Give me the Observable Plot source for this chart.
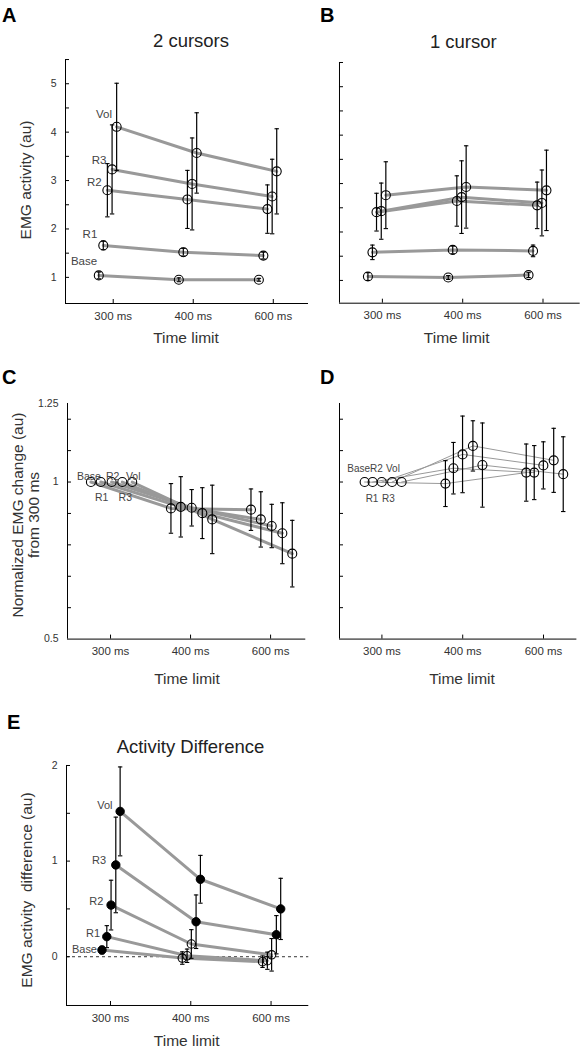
<!DOCTYPE html>
<html><head><meta charset="utf-8">
<script src="https://cdn.jsdelivr.net/npm/d3@7"></script>
<script src="https://cdn.jsdelivr.net/npm/@observablehq/plot@0.6"></script>
<style>
body{margin:0;background:#fff;}
#fig{position:relative;width:581px;height:1053px;overflow:hidden;background:#fff;font-family:"Liberation Sans",Arial,sans-serif;}
#fig > svg{position:absolute;}
</style></head><body><div id="fig"></div>
<script>
// ---------- data ----------
const seriesNames = ["Base", "R1", "R2", "R3", "Vol"];
const timeLabels = ["300 ms", "400 ms", "600 ms"];
const timeIndex = [1, 2, 3];

// A: 2 cursors, EMG activity (au) [300, 400, 600 ms]
const twoCursorMean = [
  [1.04, 0.95, 0.95],
  [1.66, 1.52, 1.45],
  [2.80, 2.61, 2.41],
  [3.23, 2.93, 2.67],
  [4.11, 3.57, 3.19]];
const twoCursorErr = [
  [0.07, 0.04, 0.03],
  [0.09, 0.08, 0.07],
  [0.55, 0.60, 0.50],
  [0.92, 0.95, 0.77],
  [0.90, 0.83, 0.88]];
// B: 1 cursor
const oneCursorMean = [
  [1.08, 1.06, 1.11],
  [1.58, 1.63, 1.61],
  [2.41, 2.64, 2.55],
  [2.43, 2.72, 2.60],
  [2.76, 2.93, 2.86]];
const oneCursorErr = [
  [0.08, 0.04, 0.05],
  [0.15, 0.08, 0.12],
  [0.39, 0.52, 0.48],
  [0.58, 0.75, 0.68],
  [0.69, 0.85, 0.83]];
// C: normalized change from 300 ms, 2 cursors
const twoCursorNorm = [
  [1, 0.916, 0.912],
  [1, 0.921, 0.881],
  [1, 0.918, 0.860],
  [1, 0.901, 0.837],
  [1, 0.881, 0.772]];
const twoCursorNormErr = [
  [0, 0.079, 0.066],
  [0, 0.096, 0.088],
  [0, 0.058, 0.069],
  [0, 0.081, 0.097],
  [0, 0.109, 0.106]];
// D: normalized change from 300 ms, 1 cursor
const oneCursorNorm = [
  [1, 0.995, 1.030],
  [1, 1.044, 1.030],
  [1, 1.088, 1.053],
  [1, 1.115, 1.069],
  [1, 1.054, 1.025]];
const oneCursorNormErr = [
  [0, 0.073, 0.091],
  [0, 0.082, 0.086],
  [0, 0.122, 0.075],
  [0, 0.080, 0.102],
  [0, 0.134, 0.119]];
// E: activity difference
const diffMean = [
  [0.07, -0.014, -0.052],
  [0.21, 0.01, -0.042],
  [0.54, 0.133, 0.02],
  [0.96, 0.366, 0.23],
  [1.52, 0.81, 0.50]];
const diffErr = [
  [0.04, 0.065, 0.06],
  [0.115, 0.07, 0.09],
  [0.26, 0.15, 0.17],
  [0.50, 0.28, 0.20],
  [0.465, 0.25, 0.32]];
const diffSignificant = [
  [true, false, false],
  [true, false, false],
  [true, false, false],
  [true, true, true],
  [true, true, true]];

// tick values
const ticksAB = [1, 1.5, 2, 2.5, 3, 3.5, 4, 4.5, 5, 5.5];
const labelsAB = [1, 2, 3, 4, 5];
const ticksCD = [0.6, 0.7, 0.8, 0.9, 1.0, 1.1, 1.2];
const labelsCD = [0.5, 1, 1.25];
const ticksE = [0, 0.5, 1, 1.5, 2];
const labelsE = [0, 1, 2];

// ---------- styling / layout ----------
const FONT = "Liberation Sans, Arial, sans-serif";
const capSymbol = {draw(ctx) { ctx.moveTo(-2.2, 0); ctx.lineTo(2.2, 0); }};

function panel(cfg) {
  const [L, T, R, B] = cfg.frame;
  const mL = 50, mT = 12, mR = 6, mB = 30;
  const W = R - L, H = B - T;
  const pts = [];
  cfg.means.forEach((arr, s) => arr.forEach((v, t) => pts.push({
    series: seriesNames[s], s, t,
    x: timeIndex[t] + cfg.offsets[s], y: v, e: cfg.errs[s][t],
    filled: cfg.filled ? cfg.filled[s][t] : false
  })));
  const bars = pts.filter(d => d.e > 0);
  const marks = [];
  if (cfg.zeroLine) marks.push(Plot.ruleY([0], {stroke: "#000", strokeWidth: 0.8, strokeDasharray: "3,3"}));
  marks.push(
    Plot.line(pts, {x: "x", y: "y", z: "series", stroke: "#999", strokeWidth: cfg.lineWidth}),
    Plot.dot(pts.filter(d => !d.filled), {x: "x", y: "y", r: cfg.r, stroke: "#000", fill: "none", strokeWidth: 1.1}),
    Plot.dot(pts.filter(d => d.filled), {x: "x", y: "y", r: cfg.r, stroke: "#000", fill: "#000", strokeWidth: 1}),
    Plot.ruleX(bars, {x: "x", y1: d => d.y - d.e, y2: d => d.y + d.e, stroke: "#000", strokeWidth: 1.2}),
    Plot.dot(bars, {x: "x", y: d => d.y - d.e, symbol: capSymbol, r: 2, stroke: "#000", fill: "none", strokeWidth: 1.1}),
    Plot.dot(bars, {x: "x", y: d => d.y + d.e, symbol: capSymbol, r: 2, stroke: "#000", fill: "none", strokeWidth: 1.1}),
    Plot.ruleX([cfg.xDomain[0]], {stroke: "#000", strokeWidth: 1}),
    Plot.ruleY([cfg.yDomain[0]], {stroke: "#000", strokeWidth: 1}),
    Plot.tickY(cfg.yTicks, {y: d => d, insetRight: W - 4, stroke: "#000", strokeWidth: 1}),
    Plot.tickX(timeIndex, {x: d => d, insetTop: H - 4, stroke: "#000", strokeWidth: 1}),
    Plot.axisX(timeIndex, {tickFormat: d => timeLabels[d - 1], tickSize: 0, tickPadding: 8, fontSize: 11.5, color: "#333", label: null})
  );
  if (cfg.yLabels) marks.push(Plot.axisY(cfg.yLabels, {tickFormat: d => String(d), tickSize: 0, tickPadding: 9, fontSize: 10.5, color: "#333", label: null}));
  (cfg.labels || []).forEach(l => {
    const p = pts.find(d => d.s === l.s && d.t === 0);
    marks.push(Plot.text([p], {x: "x", y: "y", text: d => d.series, dx: l.dx, dy: l.dy,
      textAnchor: cfg.labelAnchor, fontSize: cfg.labelSize, fill: "#444"}));
  });
  const svg = Plot.plot({
    width: W + mL + mR, height: H + mT + mB,
    marginLeft: mL, marginRight: mR, marginTop: mT, marginBottom: mB,
    x: {type: "linear", domain: cfg.xDomain},
    y: {type: "linear", domain: cfg.yDomain, axis: cfg.yLabels ? undefined : null},
    style: {fontFamily: FONT, background: "transparent", overflow: "visible"},
    marks
  });
  svg.style.left = (L - mL) + "px";
  svg.style.top = (T - mT) + "px";
  svg.style.maxWidth = "none";
  document.getElementById("fig").appendChild(svg);
}

const offAB = [-0.18, -0.124, -0.073, -0.014, 0.043];
const offC = [-0.245, -0.122, 0.014, 0.147, 0.271];
const offD = [-0.214, -0.115, -0.002, 0.126, 0.244];
const offE = [-0.106, -0.046, 0.007, 0.066, 0.12];

panel({frame: [65, 60, 308, 303], xDomain: [0.404, 3.44], yDomain: [0.46, 5.48],
  means: twoCursorMean, errs: twoCursorErr, offsets: offAB, lineWidth: 3, r: 4.5,
  yTicks: ticksAB, yLabels: labelsAB, labelAnchor: "end", labelSize: 11.5,
  labels: [{s: 4, dx: -4.7, dy: -13}, {s: 3, dx: -5.7, dy: -9}, {s: 2, dx: -5.7, dy: -8},
           {s: 1, dx: -6, dy: -11}, {s: 0, dx: -1.7, dy: -14}]});
panel({frame: [339.3, 62, 580, 302.7], xDomain: [0.466, 3.463], yDomain: [0.53, 5.5],
  means: oneCursorMean, errs: oneCursorErr, offsets: offAB, lineWidth: 3, r: 4.5,
  yTicks: ticksAB});
panel({frame: [66.7, 402.7, 305, 638.3], xDomain: [0.4625, 3.44], yDomain: [0.5, 1.25],
  means: twoCursorNorm, errs: twoCursorNormErr, offsets: offC, lineWidth: 3, r: 4.5,
  yTicks: ticksCD, yLabels: labelsCD, labelAnchor: "middle", labelSize: 10.5,
  labels: [{s: 0, dx: -2, dy: -5.2}, {s: 1, dx: 1, dy: 15.5}, {s: 2, dx: 1, dy: -5.2},
           {s: 3, dx: 3, dy: 15.5}, {s: 4, dx: 1, dy: -5.2}]});
panel({frame: [339.3, 402.7, 576.7, 638.3], xDomain: [0.475, 3.413], yDomain: [0.5, 1.25],
  means: oneCursorNorm, errs: oneCursorNormErr, offsets: offD, lineWidth: 1, r: 4.5,
  yTicks: ticksCD, labelAnchor: "middle", labelSize: 10,
  labels: [{s: 0, dx: -6, dy: -13.5}, {s: 1, dx: -0.6, dy: 16.5}, {s: 2, dx: -5.3, dy: -13.5},
           {s: 3, dx: -3.7, dy: 16.5}, {s: 4, dx: -8.7, dy: -13.5}]});
panel({frame: [65.7, 765, 308, 1005], xDomain: [0.452, 3.47], yDomain: [-0.51, 2],
  means: diffMean, errs: diffErr, offsets: offE, lineWidth: 3, r: 4.2, filled: diffSignificant,
  zeroLine: true, yTicks: ticksE, yLabels: labelsE, labelAnchor: "end", labelSize: 11,
  labels: [{s: 4, dx: -7.6, dy: -5.7}, {s: 3, dx: -9.7, dy: -4.7}, {s: 2, dx: -7.7, dy: -3.6},
           {s: 1, dx: -6.7, dy: -2.7}, {s: 0, dx: -5, dy: -1}]});

// ---------- text overlay ----------
const over = d3.select("#fig").append("svg")
  .attr("width", 581).attr("height", 1053)
  .style("left", "0px").style("top", "0px").style("pointer-events", "none")
  .style("font-family", FONT);

const letters = [["A", 2, 22], ["B", 320, 22], ["C", 2, 384], ["D", 320, 383.5], ["E", 7, 729]];
letters.forEach(([t, x, y]) => over.append("text").attr("x", x).attr("y", y)
  .attr("font-size", 20).attr("font-weight", "bold").attr("fill", "#000").text(t));

const titles = [["2 cursors", 191, 47.3], ["1 cursor", 463.3, 48], ["Activity Difference", 190.5, 753]];
titles.forEach(([t, x, y]) => over.append("text").attr("x", x).attr("y", y)
  .attr("font-size", 18.5).attr("text-anchor", "middle").attr("fill", "#222").text(t));

const xTitles = [[186, 343], [456.7, 343], [187, 683.5], [462, 683.5], [186.7, 1045.5]];
xTitles.forEach(([x, y]) => over.append("text").attr("x", x).attr("y", y)
  .attr("font-size", 15.5).attr("text-anchor", "middle").attr("fill", "#333").text("Time limit"));

const yTitles = [["EMG activity (au)", 31, 180], ["Normalized EMG change (au)", 23.3, 515],
  ["from 300 ms", 38.5, 515], ["EMG activity  difference (au)", 32, 890]];
yTitles.forEach(([t, x, y]) => over.append("text")
  .attr("transform", `translate(${x},${y}) rotate(-90)`)
  .attr("font-size", 15.5).attr("text-anchor", "middle").attr("fill", "#333")
  .style("white-space", "pre").text(t));
</script>
</body></html>
